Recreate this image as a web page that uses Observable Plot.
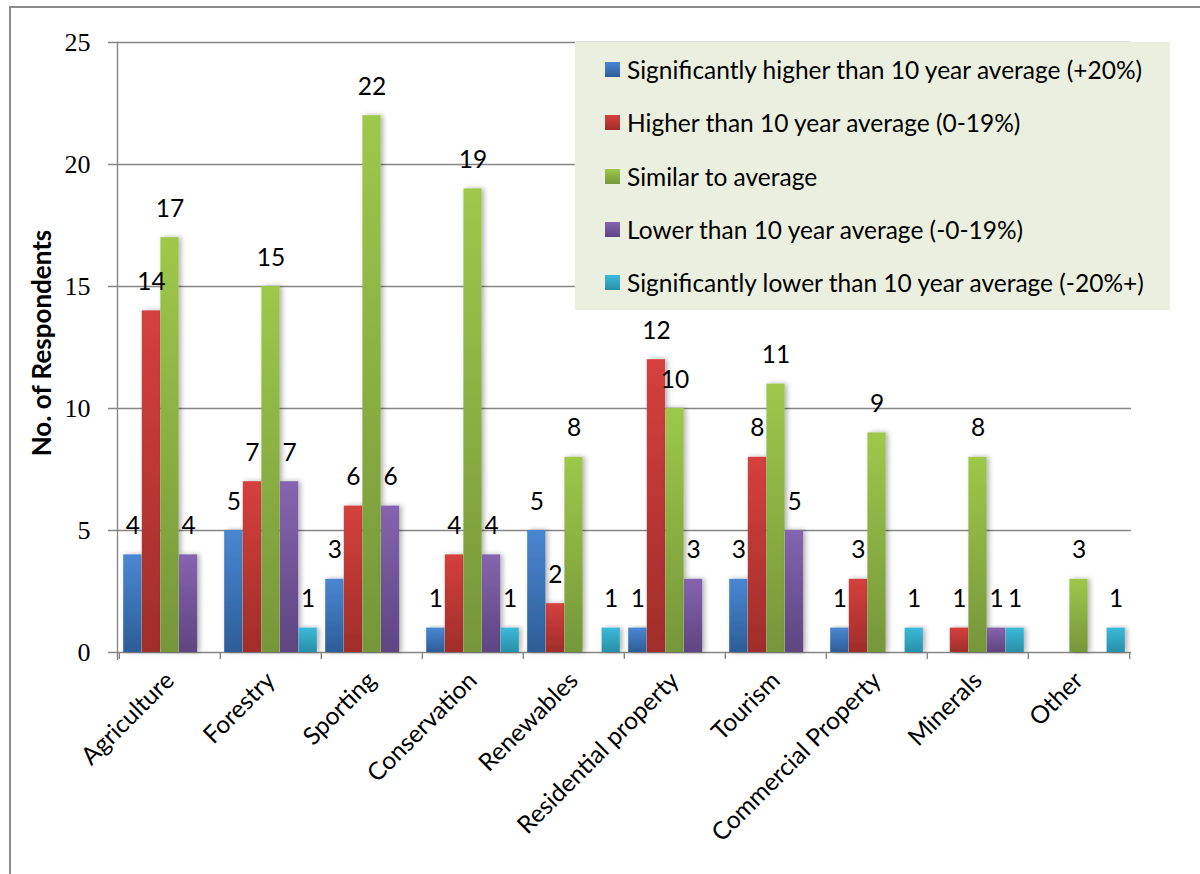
<!DOCTYPE html>
<html>
<head>
<meta charset="utf-8">
<script src="https://cdn.jsdelivr.net/npm/d3@7"></script>
<script src="https://cdn.jsdelivr.net/npm/@observablehq/plot@0.6"></script>
<style>
  body { margin: 0; background: #fff; }
  #wrap { position: relative; width: 1200px; height: 874px; overflow: hidden; font-family: Lato, "Open Sans", sans-serif; }
  #border { position: absolute; left: 9px; top: 6px; width: 1400px; height: 1000px; border: 2px solid #8c8c8c; box-sizing: border-box; }
  #chart { position: absolute; left: 0; top: 0; }
  #ytitle { position: absolute; left: 41px; top: 343px; transform: translate(-50%, -50%) rotate(-90deg); white-space: nowrap; font-weight: bold; font-size: 26px; color: #000; }
  #legend { position: absolute; left: 575px; top: 42px; width: 595px; height: 268px; background: #ebefdf; padding-top: 1px; box-sizing: border-box; }
  .row { height: 53.3px; display: flex; align-items: center; padding-left: 30px; font-size: 24.5px; color: #000; }
  .sw { width: 15px; height: 15px; margin-right: 7px; flex: none; }
</style>
</head>
<body>
<div id="wrap">
  <div id="border"></div>
  <div id="chart"></div>
  <div id="ytitle">No. of Respondents</div>
  <div id="legend"></div>
</div>
<script>
// Land use categories along the x axis
const categories = ["Agriculture", "Forestry", "Sporting", "Conservation", "Renewables",
  "Residential property", "Tourism", "Commercial Property", "Minerals", "Other"];

// Response options (series)
const seriesNames = [
  "Significantly higher than 10 year average (+20%)",
  "Higher than 10 year average (0-19%)",
  "Similar to average",
  "Lower than 10 year average (-0-19%)",
  "Significantly lower than 10 year average (-20%+)"
];

// Number of respondents per category, one array per series
const sigHigher = [4, 5, 3, 1, 5, 1, 3, 1, 0, 0];
const higher    = [14, 7, 6, 4, 2, 12, 8, 3, 1, 0];
const similar   = [17, 15, 22, 19, 8, 10, 11, 9, 8, 3];
const lower     = [4, 7, 6, 4, 0, 3, 5, 0, 1, 0];
const sigLower  = [0, 1, 0, 1, 1, 0, 0, 1, 1, 1];

const yTicks = [0, 5, 10, 15, 20, 25];

// Gradient colours (top, bottom) for each series
const topColors    = ["#4a87d2", "#d5403d", "#9dc84a", "#8564b0", "#3bbad9"];
const bottomColors = ["#2d5d98", "#a02d2a", "#76963a", "#5e4580", "#2890a9"];

const seriesValues = [sigHigher, higher, similar, lower, sigLower];

const width = 1200, height = 874;
const marginLeft = 117, marginRight = 69, marginTop = 42, marginBottom = 222;
const bandWidth = (width - marginLeft - marginRight) / categories.length;
const barWidth = 18.6;
const inset = (bandWidth - barWidth) / 2;
const gridColor = "#868686";
const serifFont = "'Liberation Serif', 'DejaVu Serif', 'Times New Roman', serif";

const barMarks = [];
const labelMarks = [];
seriesValues.forEach((vals, i) => {
  const rows = categories.map((c, j) => ({category: c, value: vals[j]})).filter(d => d.value > 0);
  const offset = (i - 2) * barWidth;
  barMarks.push(Plot.barY(rows, {
    x: "category", y: "value", fill: `url(#grad${i})`,
    insetLeft: inset, insetRight: inset, dx: offset
  }));
  labelMarks.push(Plot.text(rows, {
    x: "category", y: "value", text: d => String(d.value),
    dx: offset, dy: -21, lineAnchor: "bottom",
    fontSize: 24.5, fill: "#000", fontFamily: "Lato"
  }));
});

const plot = Plot.plot({
  width, height, marginLeft, marginRight, marginTop, marginBottom,
  x: {domain: categories, padding: 0},
  y: {domain: [0, 25]},
  style: {background: "transparent", color: "#000"},
  marks: [
    Plot.ruleY(yTicks, {stroke: gridColor, strokeWidth: 1.4, insetLeft: -9}),
    Plot.frame({anchor: "left", stroke: gridColor, strokeWidth: 1.4, insetBottom: -7}),
    Plot.ruleX(categories, {x: d => d, dx: -bandWidth / 2, y1: 0, y2: 0, insetBottom: -7, stroke: gridColor, strokeWidth: 1.4}),
    Plot.ruleX(categories.slice(-1), {x: d => d, dx: bandWidth / 2, y1: 0, y2: 0, insetBottom: -7, stroke: gridColor, strokeWidth: 1.4}),
    ...barMarks,
    ...labelMarks,
    Plot.axisY(yTicks, {tickSize: 0, tickPadding: 27, fontSize: 26, fontFamily: "Liberation Serif", label: null}),
    Plot.axisX({tickSize: 0, tickRotate: -45, tickPadding: 24, fontSize: 24.5, fontFamily: "Lato", label: null})
  ]
});

const svg = d3.select(plot);

// Vertical gradients and a soft shadow for the bars
const defs = svg.insert("defs", ":first-child");
topColors.forEach((c, i) => {
  const g = defs.append("linearGradient").attr("id", `grad${i}`)
    .attr("x1", 0).attr("y1", 0).attr("x2", 0).attr("y2", 1);
  g.append("stop").attr("offset", "0%").attr("stop-color", c);
  g.append("stop").attr("offset", "100%").attr("stop-color", bottomColors[i]);
});
defs.append("filter").attr("id", "barShadow")
  .attr("x", "-40%").attr("y", "-10%").attr("width", "180%").attr("height", "120%")
  .append("feDropShadow").attr("dx", 2.5).attr("dy", 0).attr("stdDeviation", 2.5)
  .attr("flood-color", "#000").attr("flood-opacity", 0.3);
svg.selectAll("g[aria-label='bar'] rect").style("filter", "url(#barShadow)");

// Serif value labels on the y axis
svg.selectAll("g[aria-label='y-axis tick label'] text")
  .style("font-family", serifFont)
  .style("font-size", "26px");

document.getElementById("chart").appendChild(plot);

// Legend
const legend = d3.select("#legend");
seriesNames.forEach((name, i) => {
  const row = legend.append("div").attr("class", "row");
  row.append("div").attr("class", "sw")
    .style("background", `linear-gradient(${topColors[i]}, ${bottomColors[i]})`);
  row.append("span").text(name);
});
</script>
</body>
</html>
